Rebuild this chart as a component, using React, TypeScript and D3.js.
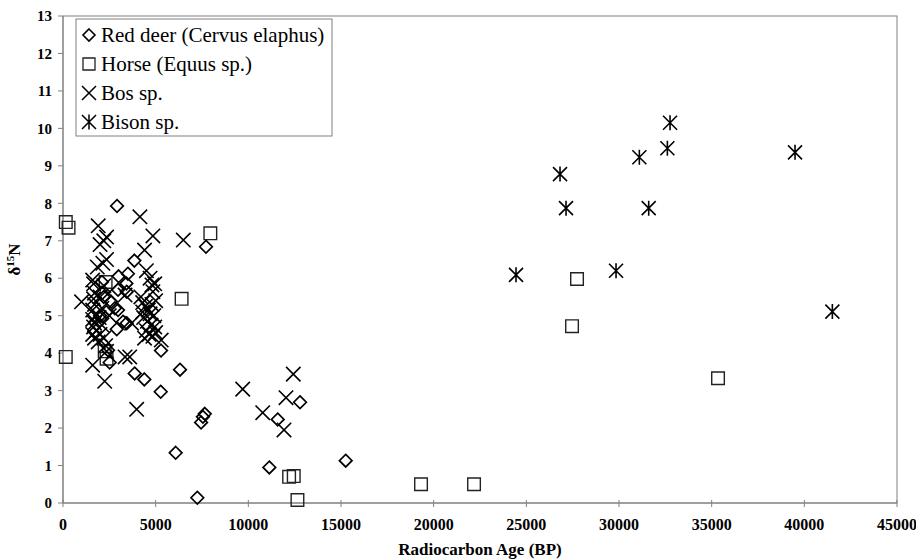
import React from "react";
import * as d3 from "d3";

const xTicks = [0, 5000, 10000, 15000, 20000, 25000, 30000, 35000, 40000, 45000];
const yTicks = [0, 1, 2, 3, 4, 5, 6, 7, 8, 9, 10, 11, 12, 13];

const legendLabels = ["Red deer (Cervus elaphus)", "Horse (Equus sp.)", "Bos sp.", "Bison sp."];

// [age BP, d15N]
const redDeer: [number, number][] = [
  [2914, 7.93], [7716, 6.84], [3850, 6.47], [3500, 6.12], [3000, 6.05], [3420, 5.86],
  [2970, 5.69], [2600, 5.37], [2970, 5.15], [2340, 5.1], [3240, 4.84], [2430, 4.08],
  [2518, 3.75], [2900, 4.64], [2800, 5.2], [3437, 5.64], [2000, 5.0], [2200, 5.5],
  [3437, 4.8], [5288, 4.07], [4388, 3.3], [3867, 3.46], [5272, 2.97], [6313, 3.56],
  [7450, 2.15], [7550, 2.3], [7650, 2.38], [6080, 1.34], [7247, 0.14], [11133, 0.95],
  [11585, 2.23], [12789, 2.69], [15254, 1.13], [2100, 5.9],
];

const horse: [number, number][] = [
  [150, 7.5], [300, 7.35], [150, 3.9], [2300, 5.9], [2250, 4.05], [2350, 3.85],
  [7950, 7.2], [6400, 5.45], [12200, 0.7], [12450, 0.72], [12650, 0.08],
  [19318, 0.5], [22178, 0.5], [27735, 5.98], [27466, 4.72], [35343, 3.33],
];

const bos: [number, number][] = [
  [1000, 5.37], [1600, 5.95], [1650, 5.85], [1700, 5.6], [1650, 5.45], [1700, 5.3],
  [1600, 5.15], [1750, 5.0], [1600, 4.9], [1700, 4.8], [1650, 4.7], [1800, 4.6],
  [1600, 4.5], [1700, 4.4], [1900, 4.3], [2000, 5.5], [2100, 5.2], [1950, 4.95],
  [2100, 4.75], [2000, 4.5], [2200, 4.4], [2300, 4.2], [2350, 4.05], [1600, 3.68],
  [2250, 3.25], [2200, 5.8], [1850, 6.3], [2350, 6.5], [2150, 6.4], [2000, 6.9],
  [2200, 7.0], [2350, 7.1], [1900, 7.4], [2450, 5.6], [2500, 5.0],
  [4150, 7.64], [4850, 7.13], [4400, 6.75], [4500, 6.2], [4700, 6.0], [4800, 5.82],
  [4850, 5.64], [4200, 5.5], [4300, 5.35], [4450, 5.25], [4600, 5.15], [4700, 5.05],
  [4900, 5.0], [4350, 4.95], [4550, 4.85], [4750, 4.75], [4950, 4.7], [4500, 4.6],
  [4650, 4.5], [4850, 4.45], [5000, 4.55], [4400, 4.4], [4800, 5.3], [5000, 5.4],
  [4950, 5.85], [5300, 4.35], [4300, 5.1], [3700, 4.8], [3600, 3.9], [3350, 3.9],
  [3975, 2.5], [3350, 5.55], [6492, 7.02],
  [9696, 3.04], [12426, 3.44], [12033, 2.81], [10776, 2.41], [11925, 1.95],
];

const bison: [number, number][] = [
  [32754, 10.15], [32610, 9.47], [31098, 9.23], [39498, 9.36], [26818, 8.78],
  [27142, 7.87], [31603, 7.87], [24444, 6.09], [29840, 6.2], [41512, 5.11],
];

const W = 916;
const H = 560;
const left = 63, right = 897, top = 16, bottom = 503;

const x = d3.scaleLinear().domain([0, 45000]).range([left, right]);
const y = d3.scaleLinear().domain([0, 13]).range([bottom, top]);

const diamondPath = (cx: number, cy: number, r = 6.3) =>
  `M${cx},${cy - r}L${cx + r},${cy}L${cx},${cy + r}L${cx - r},${cy}Z`;
const squarePath = (cx: number, cy: number, r = 6.3) =>
  `M${cx - r},${cy - r}H${cx + r}V${cy + r}H${cx - r}Z`;
const xPath = (cx: number, cy: number, r = 7.2) =>
  `M${cx - r},${cy - r}L${cx + r},${cy + r}M${cx - r},${cy + r}L${cx + r},${cy - r}`;
const starPath = (cx: number, cy: number, r = 7) =>
  `M${cx - r},${cy - r}L${cx + r},${cy + r}M${cx - r},${cy + r}L${cx + r},${cy - r}M${cx},${cy - r - 0.5}L${cx},${cy + r + 0.5}`;

const font = "Liberation Serif, DejaVu Serif, Times New Roman, serif";
const axisColor = "#808080";

export default function App() {
  const legendX = 76, legendY = 19, legendW = 256, legendH = 117;
  const legendRowY = [35, 64, 93, 122];
  const legendShapes = [
    (cx: number, cy: number) => <path d={diamondPath(cx, cy, 6)} fill="none" stroke="#000" strokeWidth={1.6} />,
    (cx: number, cy: number) => <path d={squarePath(cx, cy, 6)} fill="none" stroke="#222" strokeWidth={1.3} />,
    (cx: number, cy: number) => <path d={xPath(cx, cy, 7)} fill="none" stroke="#000" strokeWidth={1.5} />,
    (cx: number, cy: number) => <path d={starPath(cx, cy, 7)} fill="none" stroke="#000" strokeWidth={1.5} />,
  ];
  return (
    <svg width={W} height={H} style={{ position: "absolute", left: 0, top: 0, background: "#fff", fontFamily: font }}>
      <rect x={0} y={0} width={W} height={H} fill="#fff" />
      {/* plot border */}
      <rect x={left} y={top} width={right - left} height={bottom - top} fill="none" stroke={axisColor} strokeWidth={1} />
      {/* y ticks */}
      {yTicks.map((t) => (
        <g key={"y" + t}>
          <line x1={left - 5} x2={left} y1={y(t)} y2={y(t)} stroke={axisColor} />
          <text x={left - 11} y={y(t)} dy="0.35em" textAnchor="end" fontSize={15} fontWeight="bold">{t}</text>
        </g>
      ))}
      {/* x ticks */}
      {xTicks.map((t) => (
        <g key={"x" + t}>
          <line x1={x(t)} x2={x(t)} y1={bottom - 3} y2={bottom + 4} stroke={axisColor} />
          <text x={x(t)} y={bottom + 27} textAnchor="middle" fontSize={16} fontWeight="bold">{t}</text>
        </g>
      ))}
      {/* axis lines */}
      <line x1={left} x2={left} y1={top} y2={bottom} stroke={axisColor} />
      <line x1={left} x2={right} y1={bottom} y2={bottom} stroke={axisColor} />
      {/* axis titles */}
      <text x={(left + right) / 2} y={555} textAnchor="middle" fontSize={17} fontWeight="bold">Radiocarbon Age (BP)</text>
      <text transform={`translate(20,${(top + bottom) / 2}) rotate(-90)`} textAnchor="middle" fontSize={17} fontWeight="bold">
        δ<tspan dy={-6} fontSize={11}>15</tspan><tspan dy={6}>N</tspan>
      </text>
      {/* data */}
      <g fill="none">
        {horse.map((d, i) => (
          <path key={"h" + i} d={squarePath(x(d[0]), y(d[1]))} stroke="#222" strokeWidth={1.4} />
        ))}
        {redDeer.map((d, i) => (
          <path key={"r" + i} d={diamondPath(x(d[0]), y(d[1]))} stroke="#000" strokeWidth={1.7} />
        ))}
        {bos.map((d, i) => (
          <path key={"b" + i} d={xPath(x(d[0]), y(d[1]))} stroke="#000" strokeWidth={1.6} />
        ))}
        {bison.map((d, i) => (
          <path key={"s" + i} d={starPath(x(d[0]), y(d[1]))} stroke="#000" strokeWidth={1.6} />
        ))}
      </g>
      {/* legend */}
      <rect x={legendX} y={legendY} width={legendW} height={legendH} fill="#fff" stroke={axisColor} strokeWidth={1} />
      {legendLabels.map((l, i) => (
        <g key={l}>
          {legendShapes[i](89, legendRowY[i])}
          <text x={101} y={legendRowY[i]} dy="0.34em" fontSize={21}>{l}</text>
        </g>
      ))}
    </svg>
  );
}
